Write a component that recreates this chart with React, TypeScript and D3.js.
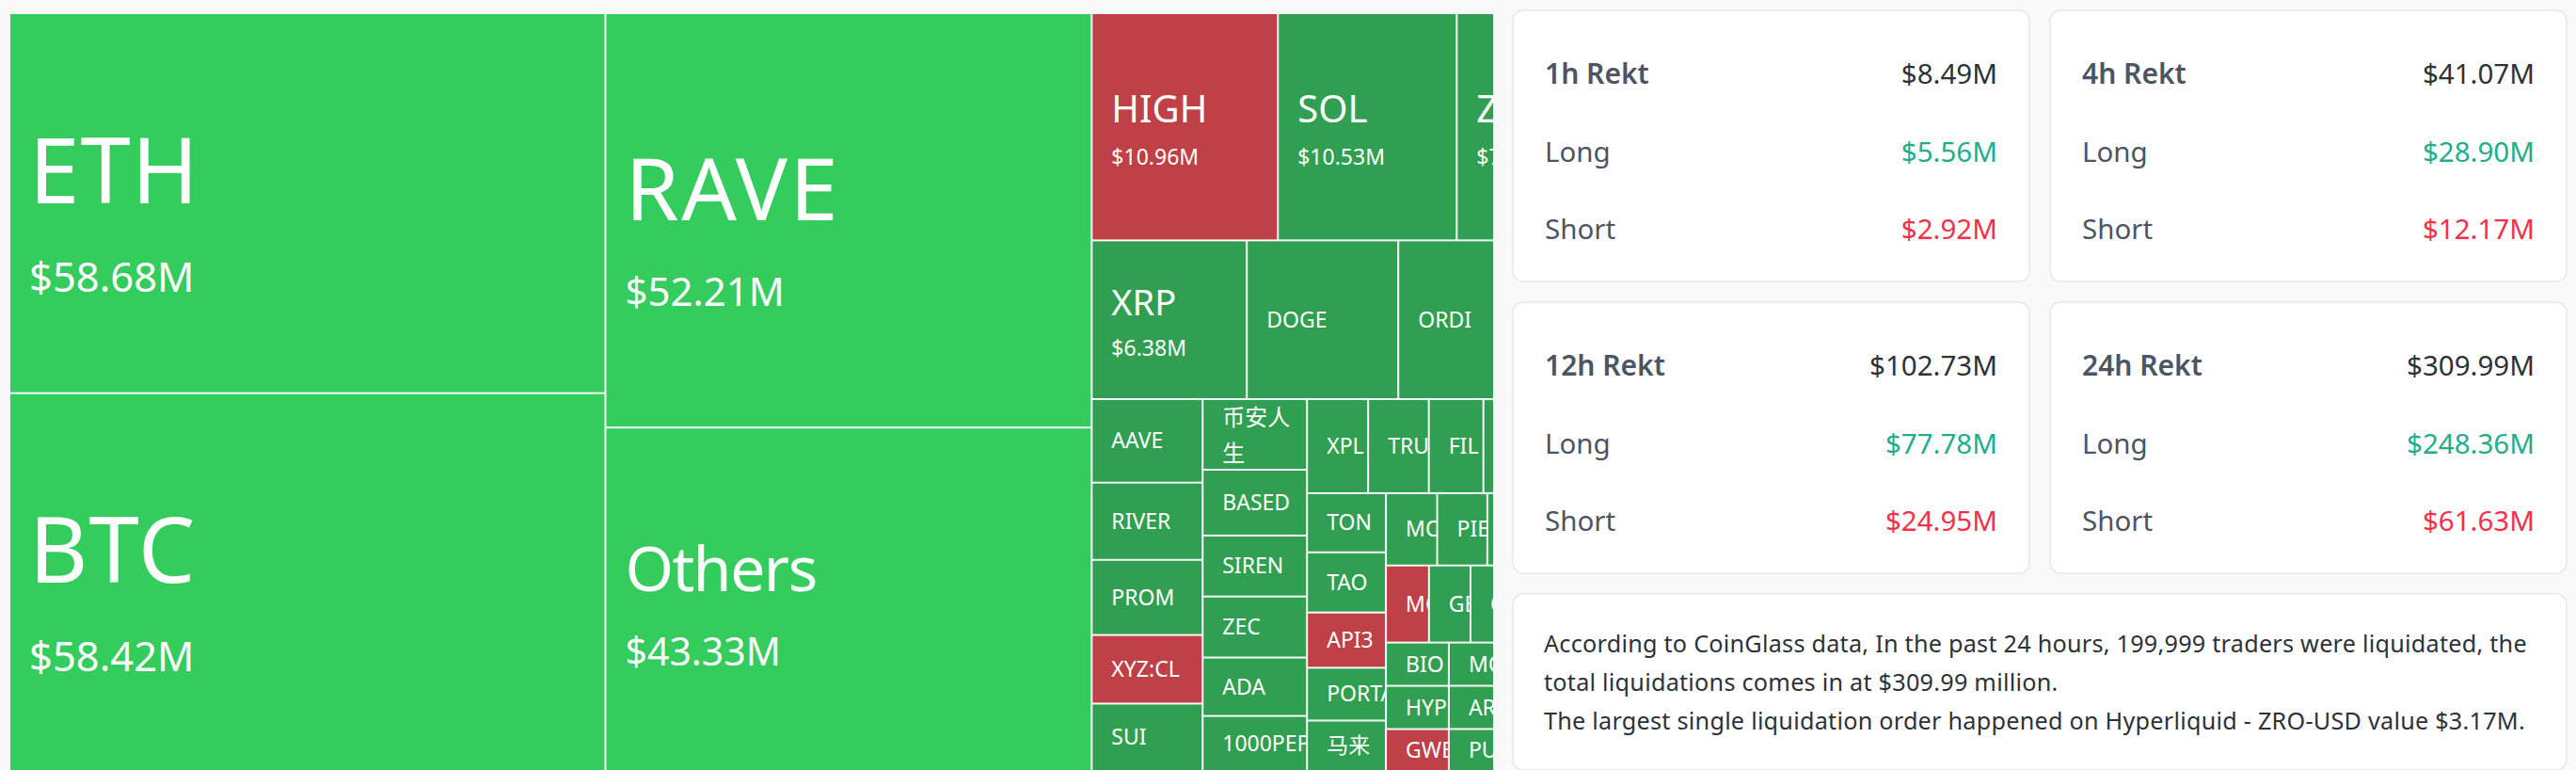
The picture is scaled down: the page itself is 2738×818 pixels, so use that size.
import React from "react";
import * as d3 from "d3";

type Leaf = [string, number];
type Group = { dir: "x" | "y"; children: (Group | { name: string; value: number })[] };

// Liquidations per coin, in $M. Small cells are read from their area;
// names cut off by their cell keep only the letters that can be read.
const colEthBtc: Leaf[] = [["ETH", 58.68], ["BTC", 58.42]];
const colRaveOthers: Leaf[] = [["RAVE", 52.21], ["Others", 43.33]];
const rowHigh: Leaf[] = [["HIGH", 10.96], ["SOL", 10.53], ["ZRO", 7.68]];
const rowXrp: Leaf[] = [["XRP", 6.38], ["DOGE", 6.23], ["ORDI", 5.9], ["", 1.87]];
const colAave: Leaf[] = [["AAVE", 2.4], ["RIVER", 2.22], ["PROM", 2.16], ["XYZ:CL", 1.97], ["SUI", 1.95]];
const colBased: Leaf[] = [["币安人生", 1.91], ["BASED", 1.78], ["SIREN", 1.65], ["ZEC", 1.65], ["ADA", 1.58], ["1000PEPE", 1.5]];
const rowXpl: Leaf[] = [["XPL", 1.49], ["TRU", 1.48], ["FIL", 1.33], ["", 2.53]];
const colTon: Leaf[] = [["TON", 1.21], ["TAO", 1.23], ["API3", 1.13], ["PORTAL", 1.08], ["马来", 1.04]];
const rowMon: Leaf[] = [["MO", 0.96], ["PIE", 0.94], ["", 1.87]];
const rowMove: Leaf[] = [["MO ", 0.86], ["GE", 0.83], ["O", 2.33]];
const colBio: Leaf[] = [["BIO", 0.705], ["HYP", 0.705], ["GWE", 0.69]];
const colMorpho: Leaf[] = [["MO", 1.55], ["AR", 1.55], ["PU", 1.52]];
const shortHeavy = ["HIGH", "XYZ:CL", "API3", "MO ", "GWE"];
const wrappedNames: Record<string, string[]> = { "币安人生": ["币安人", "生"] };

const periods = ["1h Rekt", "4h Rekt", "12h Rekt", "24h Rekt"];
const totals = [8.49, 41.07, 102.73, 309.99];
const longs = [5.56, 28.9, 77.78, 248.36];
const shorts = [2.92, 12.17, 24.95, 61.63];
const rowLabels = ["Long", "Short"];
const summaryLines = [
  "According to CoinGlass data, In the past 24 hours, 199,999 traders were liquidated, the",
  "total liquidations comes in at $309.99 million.",
  "The largest single liquidation order happened on Hyperliquid - ZRO-USD value $3.17M.",
];

const FONT = '"Noto Sans", "Noto Sans CJK SC", sans-serif';
const money = (v: number) => d3.format("$.2f")(v) + "M";
const leaves = (l: Leaf[]) => l.map(([name, value]) => ({ name, value }));
const g = (dir: "x" | "y", children: any[]): Group => ({ dir, children });

const tree: Group = g("x", [
  g("y", leaves(colEthBtc)),
  g("y", leaves(colRaveOthers)),
  g("y", [
    g("x", leaves(rowHigh)),
    g("x", leaves(rowXrp)),
    g("x", [
      g("y", leaves(colAave)),
      g("y", leaves(colBased)),
      g("y", [
        g("x", leaves(rowXpl)),
        g("x", [
          g("y", leaves(colTon)),
          g("y", [
            g("x", leaves(rowMon)),
            g("x", leaves(rowMove)),
            g("x", [g("y", leaves(colBio)), g("y", leaves(colMorpho))]),
          ]),
        ]),
      ]),
    ]),
  ]),
]);

const root = d3.hierarchy<any>(tree).sum((d) => d.value || 0);
d3.treemap<any>()
  .size([1677, 805.5])
  .paddingInner(0)
  .tile((node, x0, y0, x1, y1) =>
    ((node.data as Group).dir === "y" ? d3.treemapSlice : d3.treemapDice)(node, x0, y0, x1, y1)
  )(root);

const CLIP_RIGHT = 1587;

function tier(v: number) {
  if (v >= 58) return { fill: "#34cc5d", name: 96, val: 43.5, nb: 0, vb: 94, show: true, ls: 1 };
  if (v >= 50) return { fill: "#34cc5d", name: 92, val: 42, nb: 0, vb: 91, show: true, ls: 2.5 };
  if (v >= 40) return { fill: "#34cc5d", name: 66, val: 41, nb: -9, vb: 70, show: true, ls: -1.5 };
  if (v >= 7) return { fill: "#309f51", name: 40, val: 23, nb: -4.5, vb: 40.5, show: true, ls: 0 };
  if (v >= 6.3) return { fill: "#309f51", name: 38, val: 23, nb: -5, vb: 38, show: true, ls: 0 };
  return { fill: "#309f51", name: 23, val: 0, nb: 8, vb: 0, show: false, ls: 0 };
}

function Card({ i, x, y }: { i: number; x: number; y: number }) {
  const w = 549;
  const rows = [longs[i], shorts[i]];
  const colors = ["#20ae8d", "#f4304a"];
  return (
    <g>
      <rect x={x} y={y} width={w} height={288} rx={11} fill="#fff" stroke="#e8e8e8" strokeWidth={1.5} />
      <text x={x + 34} y={y + 78} fontSize={30} fontWeight={600} fill="#4b5563" fontFamily={FONT}>{periods[i]}</text>
      <text x={x + w - 34} y={y + 78} fontSize={29.5} fill="#2d3238" textAnchor="end" fontFamily={FONT}>{money(totals[i])}</text>
      {rows.map((v, k) => (
        <g key={k}>
          <text x={x + 34} y={y + 161 + k * 82} fontSize={29.5} fill="#4b5563" fontFamily={FONT}>{rowLabels[k]}</text>
          <text x={x + w - 34} y={y + 161 + k * 82} fontSize={29.5} fill={colors[k]} textAnchor="end" fontFamily={FONT}>{money(v)}</text>
        </g>
      ))}
    </g>
  );
}

export default function App() {
  const OX = 10, OY = 14;
  const cells = root.leaves();
  return (
    <svg width={2738} height={818} style={{ position: "fixed", left: 0, top: 0, display: "block" }}>
      <rect width={2738} height={818} fill="#f9f9f9" />
      <defs>
        <clipPath id="tm"><rect x={0} y={0} width={CLIP_RIGHT} height={818} /></clipPath>
        {cells.map((c: any, i) => (
          <clipPath id={"c" + i} key={i}>
            <rect x={OX + c.x0 + 1} y={OY + c.y0 + 1} width={c.x1 - c.x0 - 2} height={c.y1 - c.y0 - 2} />
          </clipPath>
        ))}
      </defs>
      <g clipPath="url(#tm)">
        {cells.map((c: any, i) => {
          const d = c.data;
          const t = tier(d.value);
          const x = OX + c.x0 + 1;
          const y = OY + c.y0 + 1;
          const w = c.x1 - c.x0 - 2;
          const h = c.y1 - c.y0 - 2;
          const cy = y + h / 2;
          const fill = shortHeavy.includes(d.name) ? "#bf4047" : t.fill;
          const wrapped = wrappedNames[d.name];
          const tx = x + 20;
          return (
            <g key={i}>
              <rect x={x} y={y} width={w} height={h} fill={fill} />
              {d.name && tx < CLIP_RIGHT && (
                <g clipPath={`url(#c${i})`} fill="#fff" fontFamily={FONT}>
                  {wrapped ? (
                    wrapped.map((line, k) => (
                      <text key={k} x={tx} y={cy - 9.5 + k * 38} fontSize={24}>{line}</text>
                    ))
                  ) : (
                    <text x={tx} y={cy + t.nb} fontSize={t.name} letterSpacing={t.ls}>{d.name}</text>
                  )}
                  {t.show && <text x={tx} y={cy + t.vb} fontSize={t.val}>{money(d.value)}</text>}
                </g>
              )}
            </g>
          );
        })}
      </g>
      <Card i={0} x={1608} y={11} />
      <Card i={1} x={2179} y={11} />
      <Card i={2} x={1608} y={321} />
      <Card i={3} x={2179} y={321} />
      <rect x={1608} y={631} width={1120} height={187} rx={11} fill="#fff" stroke="#e8e8e8" strokeWidth={1.5} />
      {summaryLines.map((line, k) => (
        <text key={k} x={1641} y={693 + k * 41} fontSize={25.2} letterSpacing={0.25} fill="#2d3238" fontFamily={FONT}>{line}</text>
      ))}
    </svg>
  );
}
